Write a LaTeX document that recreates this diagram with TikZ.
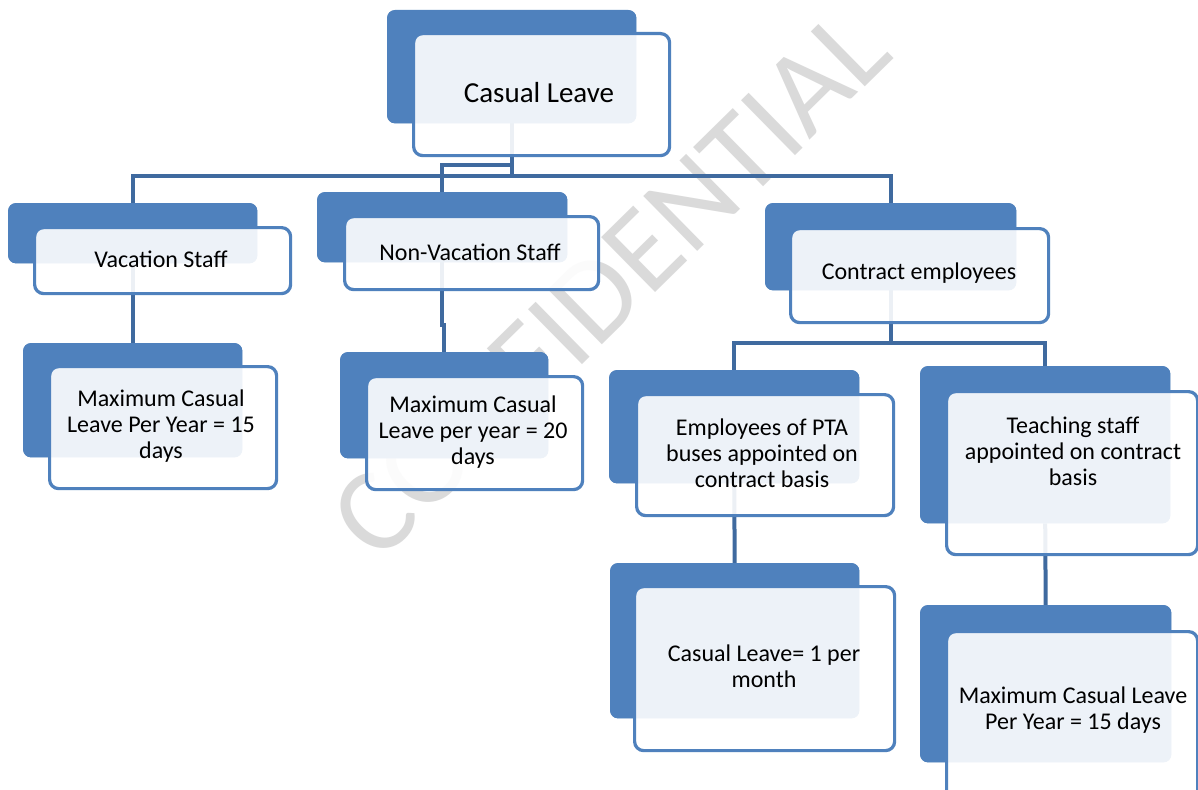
\documentclass[tikz,border=0pt]{standalone}
\usepackage{fontspec}
\setmainfont{Carlito}
\definecolor{boxblue}{HTML}{4F81BD}
\definecolor{linkblue}{HTML}{3F6A9F}
\definecolor{wmgray}{HTML}{DADADA}
\begin{document}
\begin{tikzpicture}[x=1pt,y=-1pt,
  backbox/.style={fill=boxblue, rounded corners=8pt, inner sep=0pt, anchor=north west},
  frontbox/.style={draw=boxblue, line width=3.2pt, fill=white, fill opacity=0.9, rounded corners=9pt, inner sep=0pt, anchor=north west},
  conn/.style={draw=linkblue, line width=4pt},
  lbl/.style={align=center, text=black, inner sep=0pt, font=\fontsize{24}{26}\selectfont}]
\useasboundingbox (0,0) rectangle (1198,789);
\fill[white] (0,0) rectangle (1198,789);
\clip (0,0) rectangle (1198,789);
% watermark
\node[text=wmgray, rotate=44.5, font=\fontsize{120}{120}\selectfont, inner sep=0pt] (wm) at (610,283) {CONFIDENTIAL};
% back boxes (positions)
\node[backbox, minimum width=249pt, minimum height=113pt] (rootb) at (387,10) {};
\node[backbox, minimum width=249pt, minimum height=60pt] (vacb) at (8,203) {};
\node[backbox, minimum width=250pt, minimum height=70pt] (nvb) at (317,192) {};
\node[backbox, minimum width=251pt, minimum height=87pt] (conb) at (765,203) {};
\node[backbox, minimum width=219pt, minimum height=114pt] (m15b) at (23,343) {};
\node[backbox, minimum width=208pt, minimum height=106pt] (m20b) at (340,352) {};
\node[backbox, minimum width=250pt, minimum height=113pt] (ptab) at (609,370) {};
\node[backbox, minimum width=250pt, minimum height=157pt] (teab) at (920,366) {};
\node[backbox, minimum width=249pt, minimum height=155pt] (cl1b) at (610,563) {};
\node[backbox, minimum width=251pt, minimum height=157pt] (m15rb) at (920,605) {};
% connectors (drawn beneath boxes)
\coordinate (busA) at (0,165);
\coordinate (busB) at (0,176);
\coordinate (busC) at (0,325);
\coordinate (busD) at (0,343);
\draw[conn] (rootb.south) -- (rootb.south |- busA) -| (nvb.north);
\draw[conn] (rootb.south) -- (rootb.south |- busB) -| (vacb.north);
\draw[conn] (rootb.south |- busB) -| (conb.north);
\draw[conn] (vacb.south) -- (m15b.north);
\draw[conn] (nvb.south) -- (nvb.south |- busC) -| (m20b.north);
\draw[conn] (conb.south) -- (conb.south |- busD) -| (ptab.north);
\draw[conn] (conb.south |- busD) -| (teab.north);
\draw[conn] (ptab.south) -- (cl1b.north);
\draw[conn] (teab.south) -- (m15rb.north);
% redraw back boxes over connectors
\fill[boxblue, rounded corners=8pt] (rootb.north west) rectangle (rootb.south east);
\fill[boxblue, rounded corners=8pt] (vacb.north west) rectangle (vacb.south east);
\fill[boxblue, rounded corners=8pt] (nvb.north west) rectangle (nvb.south east);
\fill[boxblue, rounded corners=8pt] (conb.north west) rectangle (conb.south east);
\fill[boxblue, rounded corners=8pt] (m15b.north west) rectangle (m15b.south east);
\fill[boxblue, rounded corners=8pt] (m20b.north west) rectangle (m20b.south east);
\fill[boxblue, rounded corners=8pt] (ptab.north west) rectangle (ptab.south east);
\fill[boxblue, rounded corners=8pt] (teab.north west) rectangle (teab.south east);
\fill[boxblue, rounded corners=8pt] (cl1b.north west) rectangle (cl1b.south east);
\fill[boxblue, rounded corners=8pt] (m15rb.north west) rectangle (m15rb.south east);
% front boxes
\node[frontbox, minimum width=256pt, minimum height=122pt] (rootf) at (412,32) {};
\node[frontbox, minimum width=256pt, minimum height=66pt] (vacf) at (33,226) {};
\node[frontbox, minimum width=254pt, minimum height=73pt] (nvf) at (343,215) {};
\node[frontbox, minimum width=258pt, minimum height=94pt] (conf) at (789,227) {};
\node[frontbox, minimum width=227pt, minimum height=122pt] (m15f) at (48,365) {};
\node[frontbox, minimum width=216pt, minimum height=113pt] (m20f) at (365,375) {};
\node[frontbox, minimum width=257pt, minimum height=121pt] (ptaf) at (635,393) {};
\node[frontbox, minimum width=251pt, minimum height=163pt] (teaf) at (945,390) {};
\node[frontbox, minimum width=260pt, minimum height=164pt] (cl1f) at (633,585) {};
\node[frontbox, minimum width=251pt, minimum height=170pt] (m15rf) at (945,630) {};
% labels
\node[lbl, font=\fontsize{29}{32}\selectfont] (roott) at (539,93) {Casual Leave};
\node[lbl] (vact) at (161,259) {Vacation Staff};
\node[lbl] (nvt) at (470,252) {Non-Vacation Staff};
\node[lbl] (cont) at (919,273) {Contract employees};
\node[lbl] (m15t) at (161,426) {Maximum Casual\\Leave Per Year = 15\\days};
\node[lbl] (m20t) at (473,432) {Maximum Casual\\Leave per year = 20\\days};
\node[lbl] (ptat) at (762,453) {Employees of PTA\\buses appointed on\\contract basis};
\node[lbl] (teat) at (1073,451) {Teaching staff\\appointed on contract\\basis};
\node[lbl] (cl1t) at (764,666) {Casual Leave= 1 per\\month};
\node[lbl] (m15rt) at (1073,710) {Maximum Casual Leave\\Per Year = 15 days};
\end{tikzpicture}
\end{document}
